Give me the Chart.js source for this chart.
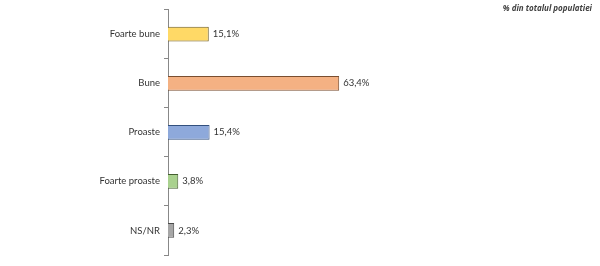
<!DOCTYPE html>
<html lang="ro">
<head>
  <meta charset="UTF-8">
  <title>% din totalul populatiei</title>
  <script src="https://cdn.jsdelivr.net/npm/chart.js"></script>
  <style>
    body {
      margin: 0;
      padding: 0;
      background: #fff;
      font-family: Lato, Arial, sans-serif;
    }
    .wrap {
      position: relative;
      width: 600px;
      height: 266px;
    }
    .note {
      position: absolute;
      top: 2px;
      right: 8px;
      font-family: "Open Sans", Arial, sans-serif;
      font-size: 8px;
      font-style: italic;
      font-weight: bold;
      color: #404040;
    }
  </style>
</head>
<body>
  <div class="wrap">
    <div class="note">% din totalul populatiei</div>
    <canvas id="myChart" width="600" height="266"></canvas>
  </div>

  <script>
    const categories = ['Foarte bune', 'Bune', 'Proaste', 'Foarte proaste', 'NS/NR'];
    const values = [15.1, 63.4, 15.4, 3.8, 2.3];
    const fillColors = ['#FFD966', '#F4B183', '#8EA9DB', '#A9D18E', '#A6A6A6'];
    const edgeColors = ['#6B5A22', '#7A4E30', '#33507E', '#445F30', '#4A4A4A'];

    // draws "15,1%" style labels at the end of each bar
    const valueLabels = {
      id: 'valueLabels',
      afterDatasetsDraw(chart) {
        const ctx = chart.ctx;
        const meta = chart.getDatasetMeta(0);
        ctx.save();
        ctx.font = '9.5px Lato, Arial, sans-serif';
        ctx.fillStyle = '#333';
        ctx.textAlign = 'left';
        ctx.textBaseline = 'middle';
        meta.data.forEach((bar, i) => {
          const txt = values[i].toFixed(1).replace('.', ',') + '%';
          ctx.fillText(txt, bar.x + 4, bar.y);
        });
        ctx.restore();
      }
    };

    const ctx = document.getElementById('myChart').getContext('2d');
    new Chart(ctx, {
      type: 'bar',
      data: {
        labels: categories,
        datasets: [{
          data: values,
          backgroundColor: fillColors,
          borderColor: edgeColors,
          borderWidth: 1,
          categoryPercentage: 1,
          barPercentage: 0.3
        }]
      },
      options: {
        indexAxis: 'y',
        responsive: false,
        animation: false,
        layout: {
          padding: { top: 8, right: 162, bottom: 11, left: 0 }
        },
        scales: {
          x: {
            display: false,
            min: 0,
            max: 100
          },
          y: {
            afterFit: function(scale) {
              scale.width = 168;
            },
            grid: {
              drawOnChartArea: false,
              tickLength: 4,
              color: '#888',
              offset: true
            },
            border: { color: '#888', width: 1 },
            ticks: {
              padding: 4,
              color: '#333',
              font: { size: 9.5, family: 'Lato, Arial, sans-serif' }
            }
          }
        },
        plugins: {
          legend: { display: false },
          tooltip: { enabled: false }
        }
      },
      plugins: [valueLabels]
    });
  </script>
</body>
</html>
